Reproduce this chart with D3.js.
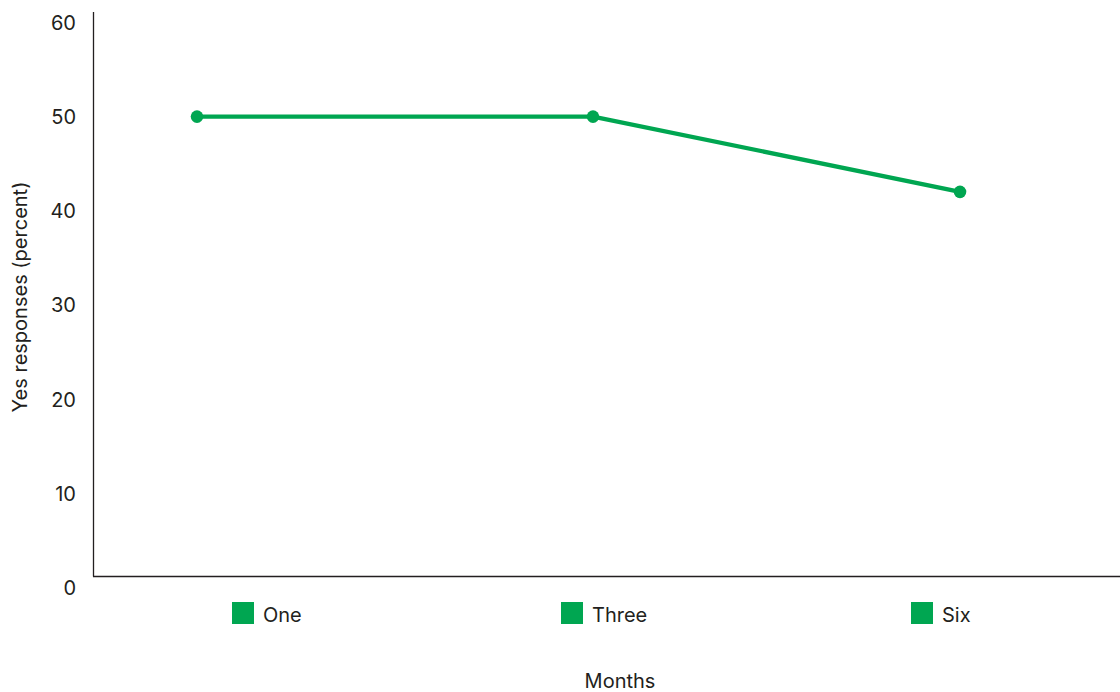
<!DOCTYPE html>
<html>
<head>
<meta charset="utf-8">
<script src="https://cdn.jsdelivr.net/npm/d3@7"></script>
<style>
  html, body { margin: 0; padding: 0; background: #fff; }
  svg { display: block; }
  text { font-family: Inter, "Noto Sans", sans-serif; fill: #231f20; }
</style>
</head>
<body>
<svg id="chart" width="1120" height="692"></svg>
<script>
const categories = ["One", "Three", "Six"];
const values = [50, 50, 42];
const yTicks = [0, 10, 20, 30, 40, 50, 60];
const xTitle = "Months";
const yTitle = "Yes responses (percent)";

const color = "#00a651";
const svg = d3.select("#chart");

const x = d3.scaleLinear().domain([0, 1, 2]).range([197, 593, 960]);
const legendX = d3.scaleLinear().domain([0, 1, 2]).range([232, 561, 911]);
const y = d3.scaleLinear().domain([0, 60]).range([587, 22.5]);

// axes lines
svg.append("line").attr("x1", 93.5).attr("x2", 93.5).attr("y1", 12).attr("y2", 576.5)
  .attr("stroke", "#231f20").attr("stroke-width", 1.3);
svg.append("line").attr("x1", 93).attr("x2", 1120).attr("y1", 576.5).attr("y2", 576.5)
  .attr("stroke", "#231f20").attr("stroke-width", 1.5);

// y tick labels
const yAxis = d3.axisLeft(y).tickValues(yTicks).tickSize(0).tickPadding(0);
const gy = svg.append("g").attr("transform", "translate(76,0)").call(yAxis);
gy.select(".domain").remove();
gy.selectAll("text").attr("font-size", 20).attr("font-family", "Inter, sans-serif")
  .attr("fill", "#231f20").attr("dy", "0.36em");

// line
const line = d3.line().x((d, i) => x(i)).y(d => y(d));
svg.append("path").datum(values).attr("d", line)
  .attr("fill", "none").attr("stroke", color).attr("stroke-width", 4.2)
  .attr("stroke-linejoin", "round");

svg.selectAll("circle.pt").data(values).join("circle")
  .attr("class", "pt")
  .attr("cx", (d, i) => x(i)).attr("cy", d => y(d)).attr("r", 6.3)
  .attr("fill", color);

// legend
const lg = svg.selectAll("g.leg").data(categories).join("g")
  .attr("class", "leg")
  .attr("transform", (d, i) => `translate(${legendX(i)},602)`);
lg.append("rect").attr("width", 22).attr("height", 22).attr("fill", color);
lg.append("text").attr("x", 31).attr("y", 20).attr("font-size", 20).text(d => d);

// titles
svg.append("text").attr("x", 620).attr("y", 688).attr("text-anchor", "middle")
  .attr("font-size", 20).text(xTitle);
svg.append("text").attr("transform", "translate(27,297) rotate(-90)")
  .attr("text-anchor", "middle").attr("font-size", 20).text(yTitle);
</script>
</body>
</html>
